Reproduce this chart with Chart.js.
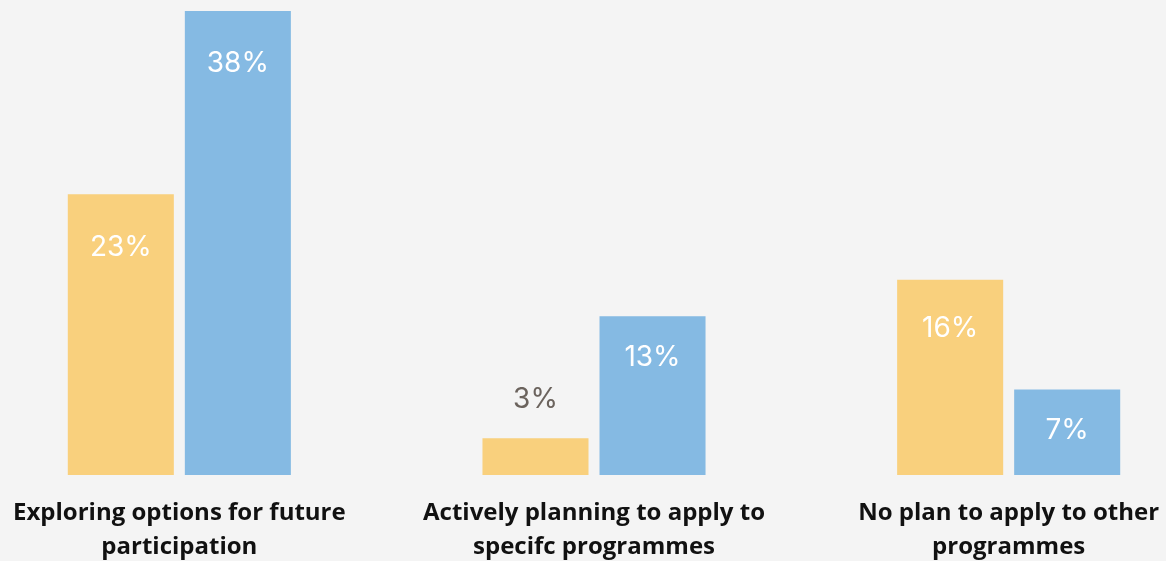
<!DOCTYPE html>
<html>
<head>
<meta charset="utf-8">
<script src="https://cdn.jsdelivr.net/npm/chart.js@4/dist/chart.umd.min.js"></script>
<style>
  html, body { margin: 0; padding: 0; background: #f4f4f4; overflow: hidden; }
  #wrap { position: absolute; left: -28px; top: 0; width: 1244px; height: 561px; }
</style>
</head>
<body>
<div id="wrap"><canvas id="chart"></canvas></div>
<script>
const categories = [
    ['Exploring options for future', 'participation'],
    ['Actively planning to apply to', 'specifc programmes'],
    ['No plan to apply to other', 'programmes']
];
const seriesA = [23, 3, 16];
const seriesB = [38, 13, 7];

// value labels: white inside the bar, grey above it when the bar is too short
const valueLabels = {
    id: 'valueLabels',
    afterDatasetsDraw(chart) {
        const ctx = chart.ctx;
        ctx.save();
        ctx.font = '400 28px Inter';
        ctx.textAlign = 'center';
        ctx.textBaseline = 'middle';
        chart.data.datasets.forEach((ds, i) => {
            chart.getDatasetMeta(i).data.forEach((bar, j) => {
                const h = bar.base - bar.y;
                let y, color;
                if (h < 70) {
                    y = bar.y - 39;
                    color = '#6b635d';
                } else {
                    y = bar.y + Math.min(53, Math.max(41, h * 0.25));
                    color = '#ffffff';
                }
                ctx.fillStyle = color;
                ctx.fillText(ds.data[j] + '%', bar.x, y);
            });
        });
        ctx.restore();
    }
};

new Chart(document.getElementById('chart'), {
    type: 'bar',
    data: {
        labels: categories,
        datasets: [
            {
                label: 'A',
                data: seriesA,
                backgroundColor: '#f9d07d',
                categoryPercentage: 0.5645,
                barPercentage: 0.906
            },
            {
                label: 'B',
                data: seriesB,
                backgroundColor: '#85bae3',
                categoryPercentage: 0.5645,
                barPercentage: 0.906
            }
        ]
    },
    options: {
        responsive: true,
        maintainAspectRatio: false,
        animation: false,
        layout: { padding: { top: 11, left: 0, right: 0, bottom: 0 } },
        plugins: {
            legend: { display: false },
            tooltip: { enabled: false }
        },
        scales: {
            x: {
                grid: { display: false, drawTicks: false },
                border: { display: false },
                ticks: {
                    color: '#111111',
                    padding: 21,
                    maxRotation: 0,
                    autoSkip: false,
                    font: { family: 'Open Sans', size: 24, weight: 'bold', lineHeight: 1.417 }
                },
                afterFit(scale) { scale.height = 86; }
            },
            y: {
                display: false,
                min: 0,
                max: 38
            }
        }
    },
    plugins: [valueLabels]
});
</script>
</body>
</html>
